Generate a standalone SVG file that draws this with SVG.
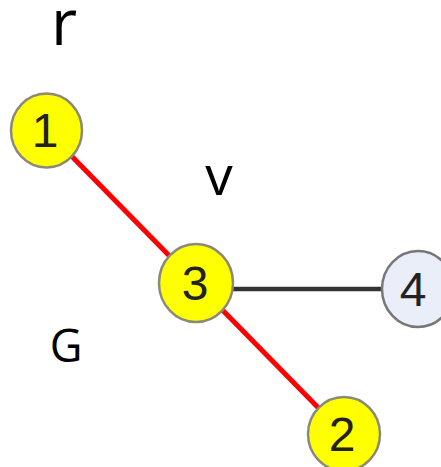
<svg xmlns="http://www.w3.org/2000/svg" width="441" height="467" viewBox="0 0 441 467">
<style>
.node{stroke:#8a8a7a;stroke-width:2.5}
.y{fill:#ffff00}
.b{fill:#e9eef8;stroke:#777}
.num{font-family:"Liberation Sans",Arial,sans-serif;font-size:48px;fill:#222;text-anchor:middle}
.lbl{font-family:"Open Sans",sans-serif;fill:#000;text-anchor:middle}
.red{stroke:#ff0000;stroke-width:5;fill:none}
.blk{stroke:#333;stroke-width:4.5;fill:none}
</style>
<rect width="441" height="467" fill="#fff"/>
<g id="connectors">
<line class="red" x1="46.5" y1="130.5" x2="196" y2="283"/>
<line class="red" x1="196" y1="283" x2="344" y2="434"/>
<line class="blk" x1="196" y1="289" x2="418" y2="289"/>
</g>
<g id="node1"><ellipse class="node y" cx="46.5" cy="130.5" rx="35.5" ry="37"/><text class="num" x="45" y="147">1</text></g>
<g id="node3"><ellipse class="node y" cx="196" cy="283" rx="37" ry="39"/><text class="num" x="195" y="300">3</text></g>
<g id="node4"><ellipse class="node b" cx="418" cy="289" rx="36" ry="38"/><text class="num" x="413" y="306">4</text></g>
<g id="node2"><ellipse class="node y" cx="344" cy="434" rx="36" ry="37"/><text class="num" x="342" y="451">2</text></g>
<text class="lbl" x="64" y="45" font-size="64">r</text>
<text class="lbl" x="219" y="195" font-size="55">v</text>
<text class="lbl" x="66" y="362" font-size="45">G</text>
</svg>
